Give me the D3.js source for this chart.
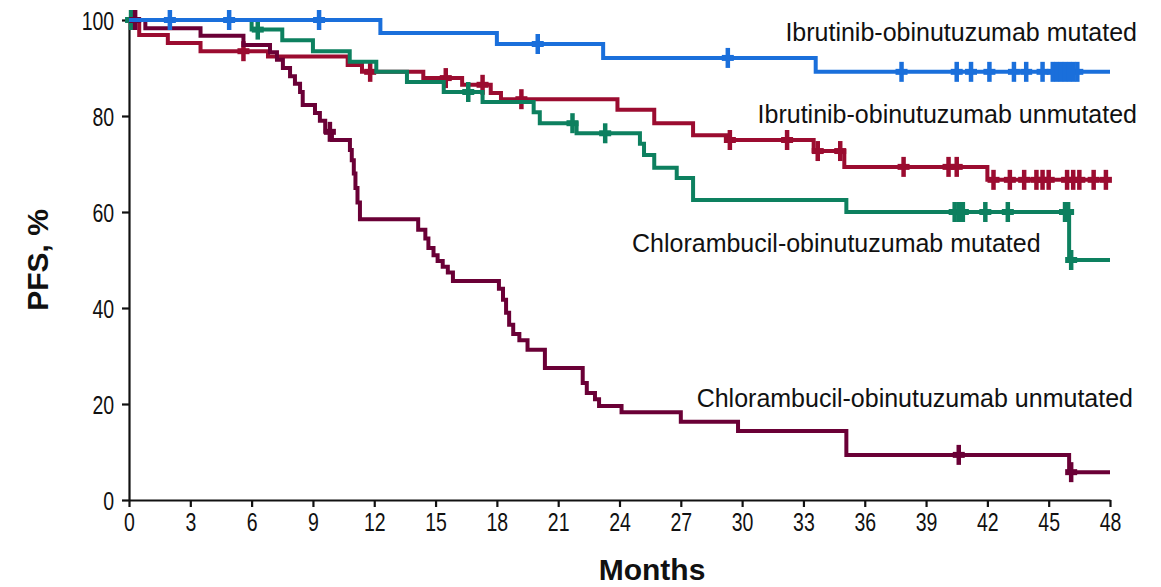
<!DOCTYPE html>
<html>
<head>
<meta charset="utf-8">
<title>PFS by IGHV status</title>
<script src="https://d3js.org/d3.v7.min.js"></script>
<style>
  body { margin: 0; background: #fff; }
  text { font-family: 'Liberation Sans', Arial, sans-serif; fill: #111; }
  .tick line, .domain { stroke: #111; stroke-width: 2.2; }
  .lbl { font-size: 25px; }
  .ttl { font-size: 30px; font-weight: bold; }
</style>
</head>
<body>
<svg id="chart" width="1161" height="587"></svg>
<script>
// ticks
var monthTicks = [0, 3, 6, 9, 12, 15, 18, 21, 24, 27, 30, 33, 36, 39, 42, 45, 48];
var pfsTicks = [0, 20, 40, 60, 80, 100];

// Ibrutinib-obinutuzumab mutated
var ibrMutTimes = [12.3, 18.0, 23.2, 33.6];
var ibrMutSurv  = [97.3, 95.0, 92.1, 89.2];
var ibrMutCens  = [2.0, 4.9, 9.3, 20.0, 29.3, 37.8, 40.5, 41.2, 42.1, 43.3, 43.9, 44.7, 45.2, 45.4, 45.6, 45.8, 46.0, 46.2, 46.4];

// Ibrutinib-obinutuzumab unmutated
var ibrUnTimes = [0.5, 1.9, 3.5, 6.8, 10.7, 11.4, 14.4, 16.3, 17.7, 18.2, 23.9, 25.7, 27.6, 29.3, 33.5, 35.0, 42.0];
var ibrUnSurv  = [96.9, 95.2, 93.5, 92.4, 90.6, 89.2, 87.9, 86.5, 84.8, 83.5, 81.3, 78.5, 76.0, 75.0, 72.7, 69.4, 66.7];
var ibrUnCens  = [5.6, 11.8, 15.5, 17.3, 19.2, 29.4, 32.2, 33.7, 34.8, 37.9, 40.1, 40.5, 42.3, 43.1, 43.8, 44.4, 44.7, 45.0, 45.9, 46.2, 46.5, 47.2, 47.8];

// Chlorambucil-obinutuzumab mutated
var chlMutTimes = [6.0, 7.5, 9.0, 10.8, 12.1, 13.6, 15.4, 17.3, 19.8, 20.1, 21.9, 25.0, 25.2, 25.7, 26.8, 27.6, 35.1, 46.0];
var chlMutSurv  = [98.0, 95.8, 93.5, 91.3, 89.2, 87.1, 85.0, 82.9, 80.8, 78.5, 76.4, 74.2, 71.9, 69.2, 67.1, 62.5, 60.0, 50.0];
var chlMutCens  = [0.1, 6.3, 16.6, 21.7, 23.3, 40.4, 40.6, 40.8, 41.9, 43.0, 45.8, 45.95, 46.1];

// Chlorambucil-obinutuzumab unmutated
var chlUnTimes = [0.8, 3.5, 5.6, 6.9, 7.24, 7.53, 7.88, 8.12, 8.37, 8.5, 9.1, 9.34, 9.6, 9.93, 10.81, 10.9, 11.0, 11.08, 11.18, 11.3,
                  14.15, 14.5, 14.65, 14.9, 15.1, 15.35, 15.6, 15.85, 18.1, 18.3, 18.45, 18.6, 18.8, 19.1, 19.5, 20.35,
                  22.2, 22.4, 22.8, 23.0, 24.1, 27.0, 29.8, 35.1, 46.0];
var chlUnSurv  = [98.3, 96.7, 94.8, 93.3, 91.7, 90.0, 88.3, 86.7, 85.0, 82.3, 80.6, 79.0, 76.7, 75.0, 72.9, 70.8, 68.0, 65.0, 62.0, 58.5,
                  56.3, 54.5, 52.5, 51.0, 49.8, 48.6, 47.4, 45.6, 44.0, 41.7, 39.0, 36.5, 34.6, 33.3, 31.3, 27.5,
                  24.4, 22.3, 21.0, 19.6, 18.3, 16.3, 14.4, 9.4, 5.8];
var chlUnCens  = [0.3, 9.83, 40.6, 46.1];

var series = [
  {name: "Ibrutinib-obinutuzumab unmutated", color: "#9b0c30", times: ibrUnTimes, surv: ibrUnSurv, cens: ibrUnCens},
  {name: "Chlorambucil-obinutuzumab mutated", color: "#0d805f", times: chlMutTimes, surv: chlMutSurv, cens: chlMutCens},
  {name: "Chlorambucil-obinutuzumab unmutated", color: "#6a0036", times: chlUnTimes, surv: chlUnSurv, cens: chlUnCens},
  {name: "Ibrutinib-obinutuzumab mutated", color: "#1a6fdb", times: ibrMutTimes, surv: ibrMutSurv, cens: ibrMutCens}
];

var svg = d3.select("#chart");
var x = d3.scaleLinear().domain([0, 48]).range([129, 1110]);
var y = d3.scaleLinear().domain([0, 100]).range([500, 20]);

// axes
var yAxis = svg.append("g")
  .attr("transform", "translate(" + x(0) + ",0)")
  .call(d3.axisLeft(y).tickValues(pfsTicks).tickSize(7).tickSizeOuter(0).tickPadding(8));
yAxis.selectAll("text")
  .style("font-size", "25px")
  .attr("transform", "scale(0.78,1)")
  .attr("x", -19)
  .attr("dy", "0.36em");

var xAxis = svg.append("g")
  .attr("transform", "translate(0," + y(0) + ")")
  .call(d3.axisBottom(x).tickValues(monthTicks).tickSize(7).tickSizeOuter(0).tickPadding(6));
xAxis.selectAll("text")
  .style("font-size", "25px")
  .attr("transform", "scale(0.78,1)");

// curves
var line = d3.line()
  .x(function(d) { return x(d[0]); })
  .y(function(d) { return y(d[1]); })
  .curve(d3.curveStepAfter);

function survAt(s, t) {
  var v = 100;
  for (var i = 0; i < s.times.length; i++) {
    if (s.times[i] <= t) v = s.surv[i];
  }
  return v;
}

series.forEach(function(s) {
  var pts = [[0, 100]];
  s.times.forEach(function(t, i) { pts.push([t, s.surv[i]]); });
  pts.push([48, s.surv[s.surv.length - 1]]);

  var g = svg.append("g");
  g.append("path")
    .attr("d", line(pts))
    .attr("fill", "none")
    .attr("stroke", s.color)
    .attr("stroke-width", 4);

  // censor marks
  g.selectAll(".cens")
    .data(s.cens)
    .enter().append("path")
    .attr("class", "cens")
    .attr("d", function(t) {
      var cx = x(t), cy = y(survAt(s, t));
      return "M" + (cx - 6) + "," + cy + "H" + (cx + 6);
    })
    .attr("stroke", s.color)
    .attr("stroke-width", 6);
  g.selectAll(".censv")
    .data(s.cens)
    .enter().append("path")
    .attr("class", "censv")
    .attr("d", function(t) {
      var cx = x(t), cy = y(survAt(s, t));
      return "M" + cx + "," + (cy - 10) + "V" + (cy + 10);
    })
    .attr("stroke", s.color)
    .attr("stroke-width", 4.5);
});

// labels
svg.append("text").attr("class", "lbl").attr("x", 1137).attr("y", 41).attr("text-anchor", "end")
  .text("Ibrutinib-obinutuzumab mutated");
svg.append("text").attr("class", "lbl").attr("x", 1137).attr("y", 123).attr("text-anchor", "end")
  .text("Ibrutinib-obinutuzumab unmutated");
svg.append("text").attr("class", "lbl").attr("x", 632).attr("y", 252)
  .text("Chlorambucil-obinutuzumab mutated");
svg.append("text").attr("class", "lbl").attr("x", 1133).attr("y", 407).attr("text-anchor", "end")
  .text("Chlorambucil-obinutuzumab unmutated");

// axis titles
svg.append("text").attr("class", "ttl").attr("x", 652).attr("y", 580).attr("text-anchor", "middle")
  .text("Months");
svg.append("text").attr("class", "ttl").attr("text-anchor", "middle")
  .attr("transform", "translate(48,260) rotate(-90)")
  .text("PFS, %");
</script>
</body>
</html>
